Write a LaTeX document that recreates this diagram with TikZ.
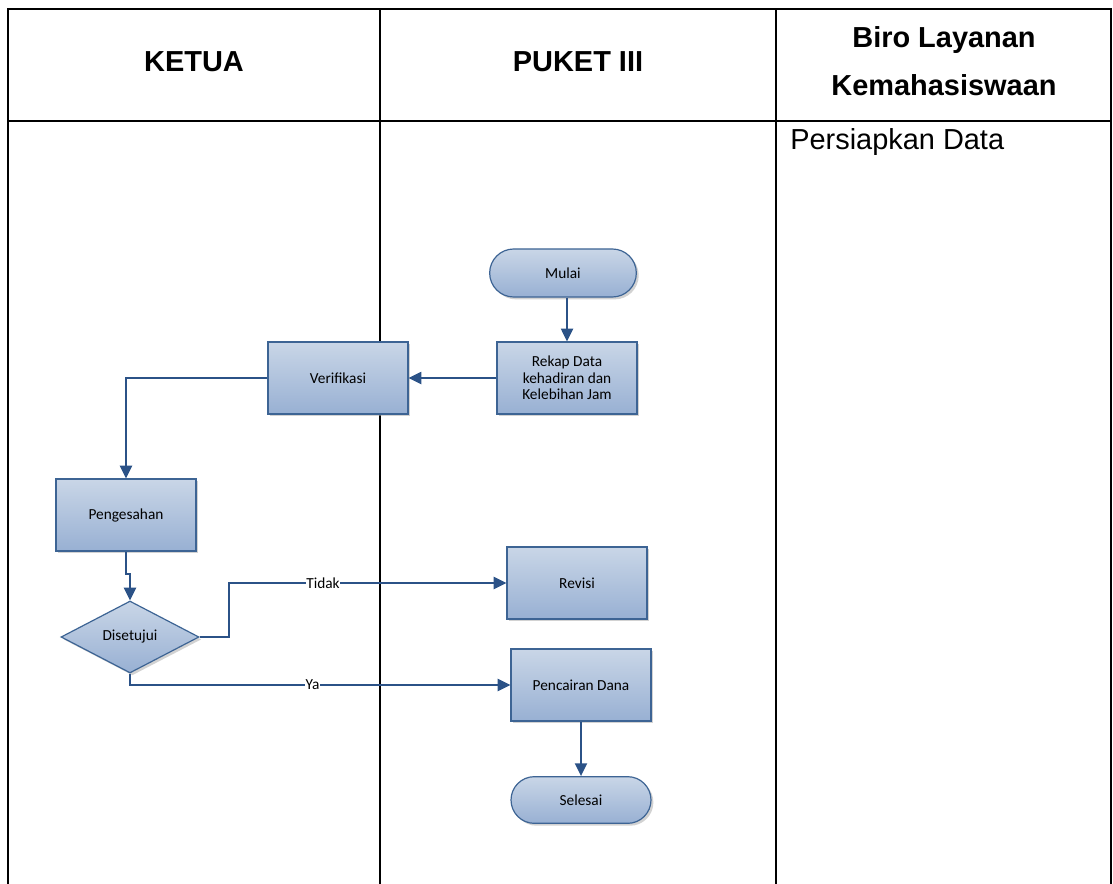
\documentclass[tikz,border=0pt]{standalone}
\usepackage{fontspec}
\setmainfont{Liberation Sans}
\newfontfamily\flowfont{Carlito}
\usetikzlibrary{arrows.meta,shapes.geometric,shapes.misc,shadows,positioning}

\definecolor{boxtop}{HTML}{C9D6E7}
\definecolor{boxbot}{HTML}{98B0D3}
\definecolor{boxline}{HTML}{3D6494}
\definecolor{flowline}{HTML}{2B5287}

\begin{document}
\begin{tikzpicture}[x=0.75pt,y=-0.75pt,
  grid/.style={black,line width=1.5pt},
  head/.style={font=\fontsize{21.7}{26}\selectfont\bfseries,inner sep=0pt},
  lanetext/.style={font=\fontsize{21.7}{26}\selectfont,inner sep=0pt},
  shade/.style={draw=boxline,line width=0.9pt,top color=boxtop,bottom color=boxbot,
    drop shadow={shadow xshift=1.8pt,shadow yshift=-1.8pt,fill=black!35},
    font=\flowfont\fontsize{11.5}{12.5}\selectfont,align=center,inner sep=0pt},
  procbox/.style={shade,rectangle,minimum width=105pt,minimum height=54pt},
  termbox/.style={shade,rounded rectangle,minimum width=110pt,minimum height=36pt},
  decbox/.style={shade,diamond,minimum width=103.5pt,minimum height=54pt},
  flow/.style={flowline,line width=1.4pt,-{Triangle[length=9.5pt,width=9pt]}},
  lbl/.style={fill=white,text=black,inner sep=0.5pt,font=\flowfont\fontsize{11.5}{12.5}\selectfont}]
\useasboundingbox (0,0) rectangle (1113,884);

% swimlane table
\draw[grid] (8,884) -- (8,9) -- (1111,9) -- (1111,884);
\draw[grid] (8,121) -- (1111,121);
\draw[grid] (380,9) -- (380,884);
\draw[grid] (776,9) -- (776,884);

\node[head] (hketua) at (194,62) {KETUA};
\node[head] (hpuket) at (578,62) {PUKET III};
\node[head] (hbiro) at (944,40) {Biro Layanan};
\node[head] (hkema) at (944,85) {Kemahasiswaan};
\node[lanetext,anchor=base west] (persiapan) at (790,150) {Persiapkan Data};

% flow nodes
\node[termbox] (mulai) at (563,273) {Mulai};
\node[procbox] (rekap) at (567,378) {Rekap Data\\kehadiran dan\\Kelebihan Jam};
\node[procbox] (verif) at (338,378) {Verifikasi};
\node[procbox] (sah) at (126,515) {Pengesahan};
\node[decbox] (setuju) at (130,637) {Disetujui};
\node[procbox] (revisi) at (577,583) {Revisi};
\node[procbox] (cair) at (581,685) {Pencairan Dana};
\node[termbox,minimum width=105pt,minimum height=35pt] (selesai) at (581,800) {Selesai};

% connectors
\draw[flow] (mulai.south -| rekap.north) -- (rekap.north);
\draw[flow] (rekap.west) -- (verif.east);
\draw[flow] (verif.west) -| (sah.north);
\draw[flow] (sah.south) -- ++(0,22) -| (setuju.north);
\draw[flow] (setuju.east) -- ++(29,0) |- node[lbl,pos=0.67] {Tidak} (revisi.west);
\draw[flow] (setuju.south) |- node[lbl,pos=0.74] {Ya} (cair.west);
\draw[flow] (cair.south) -- (selesai.north);
\end{tikzpicture}
\end{document}
